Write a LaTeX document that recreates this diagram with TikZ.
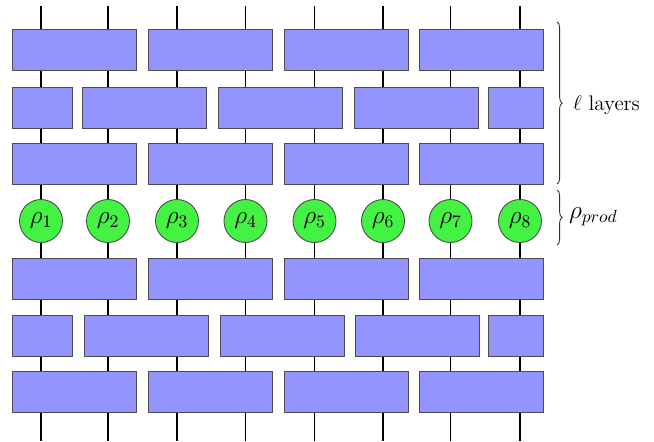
\documentclass[tikz,border=0pt]{standalone}
\usepackage{tikz}
\usetikzlibrary{positioning,backgrounds,decorations.pathreplacing}
\definecolor{gateblue}{RGB}{148,148,255}
\definecolor{rhogreen}{RGB}{68,242,68}
\tikzset{
  gate/.style ={draw=black!70,fill=gateblue,minimum height=0.82cm,inner sep=0pt,line width=.5pt},
  site/.style ={circle,draw=black!70,fill=rhogreen,minimum size=0.86cm,inner sep=0pt,font=\Large,line width=.5pt},
  wire/.style ={line width=.7pt},
  brc/.style  ={decorate,decoration={brace,amplitude=3pt},line width=.5pt,black!80},
  lbl/.style  ={anchor=west,inner sep=1pt},
}

\begin{document}
\begin{tikzpicture}
\useasboundingbox (0,0) rectangle (13.08,8.82);

% ===================== FIOS =========================================
\coordinate (t1) at (0.82,8.70);  \coordinate (b1) at (0.82,0);
\coordinate (t2) at (2.16,8.70);  \coordinate (b2) at (2.16,0);
\coordinate (t3) at (3.54,8.70);  \coordinate (b3) at (3.54,0);
\coordinate (t4) at (4.91,8.70);  \coordinate (b4) at (4.91,0);
\coordinate (t5) at (6.29,8.70);  \coordinate (b5) at (6.29,0);
\coordinate (t6) at (7.66,8.70);  \coordinate (b6) at (7.66,0);
\coordinate (t7) at (9.01,8.70);  \coordinate (b7) at (9.01,0);
\coordinate (t8) at (10.40,8.70); \coordinate (b8) at (10.40,0);

% ===================== CAMADAS DE CIMA ==============================
\node[gate,minimum width=2.48cm] (g1a) at (1.49,7.83) {};
\node[gate,minimum width=2.48cm] (g1b) at (4.21,7.83) {};
\node[gate,minimum width=2.48cm] (g1c) at (6.92,7.83) {};
\node[gate,minimum width=2.48cm] (g1d) at (9.63,7.83) {};

\node[gate,minimum width=1.20cm] (g2a) at (0.84,6.67) {};
\node[gate,minimum width=2.48cm] (g2b) at (2.89,6.67) {};
\node[gate,minimum width=2.48cm] (g2c) at (5.61,6.67) {};
\node[gate,minimum width=2.48cm] (g2d) at (8.32,6.67) {};
\node[gate,minimum width=1.10cm] (g2e) at (10.32,6.67) {};

\node[gate,minimum width=2.48cm] (g3a) at (1.49,5.55) {};
\node[gate,minimum width=2.48cm] (g3b) at (4.21,5.55) {};
\node[gate,minimum width=2.48cm] (g3c) at (6.92,5.55) {};
\node[gate,minimum width=2.48cm] (g3d) at (9.63,5.55) {};

% ===================== ESTADO PRODUTO ===============================
\node[site] (r1) at (0.82,4.40)  {$\rho_1$};
\node[site] (r2) at (2.16,4.40)  {$\rho_2$};
\node[site] (r3) at (3.54,4.40)  {$\rho_3$};
\node[site] (r4) at (4.91,4.40)  {$\rho_4$};
\node[site] (r5) at (6.29,4.40)  {$\rho_5$};
\node[site] (r6) at (7.66,4.40)  {$\rho_6$};
\node[site] (r7) at (9.01,4.40)  {$\rho_7$};
\node[site] (r8) at (10.40,4.40) {$\rho_8$};

% ===================== CAMADAS DE BAIXO =============================
\node[gate,minimum width=2.48cm] (g4a) at (1.49,3.25) {};
\node[gate,minimum width=2.48cm] (g4b) at (4.21,3.25) {};
\node[gate,minimum width=2.48cm] (g4c) at (6.92,3.25) {};
\node[gate,minimum width=2.48cm] (g4d) at (9.63,3.25) {};

\node[gate,minimum width=1.20cm] (g5a) at (0.84,2.11) {};
\node[gate,minimum width=2.48cm] (g5b) at (2.93,2.11) {};
\node[gate,minimum width=2.48cm] (g5c) at (5.65,2.11) {};
\node[gate,minimum width=2.48cm] (g5d) at (8.35,2.11) {};
\node[gate,minimum width=1.10cm] (g5e) at (10.31,2.11) {};

\node[gate,minimum width=2.48cm] (g6a) at (1.49,0.98) {};
\node[gate,minimum width=2.48cm] (g6b) at (4.21,0.98) {};
\node[gate,minimum width=2.48cm] (g6c) at (6.92,0.98) {};
\node[gate,minimum width=2.48cm] (g6d) at (9.63,0.98) {};

\begin{scope}[on background layer]
\draw[wire] (t1) -- (b1); \draw[wire] (t2) -- (b2);
\draw[wire] (t3) -- (b3); \draw[wire] (t4) -- (b4);
\draw[wire] (t5) -- (b5); \draw[wire] (t6) -- (b6);
\draw[wire] (t7) -- (b7); \draw[wire] (t8) -- (b8);
\end{scope}

% ===================== CHAVES =======================================
\coordinate (lyt) at (11.14,8.38); \coordinate (lyb) at (11.14,5.14);
\coordinate (prt) at (11.14,5.02); \coordinate (prb) at (11.14,3.92);
\draw[brc] (lyt) -- (lyb);
\draw[brc] (prt) -- (prb);
\node[lbl,font=\large] (lay)  at (11.42,6.72) {$\ell$ layers};
\node[lbl,font=\Large] (prod) at (11.34,4.48) {$\rho_{prod}$};

\end{tikzpicture}
\end{document}
